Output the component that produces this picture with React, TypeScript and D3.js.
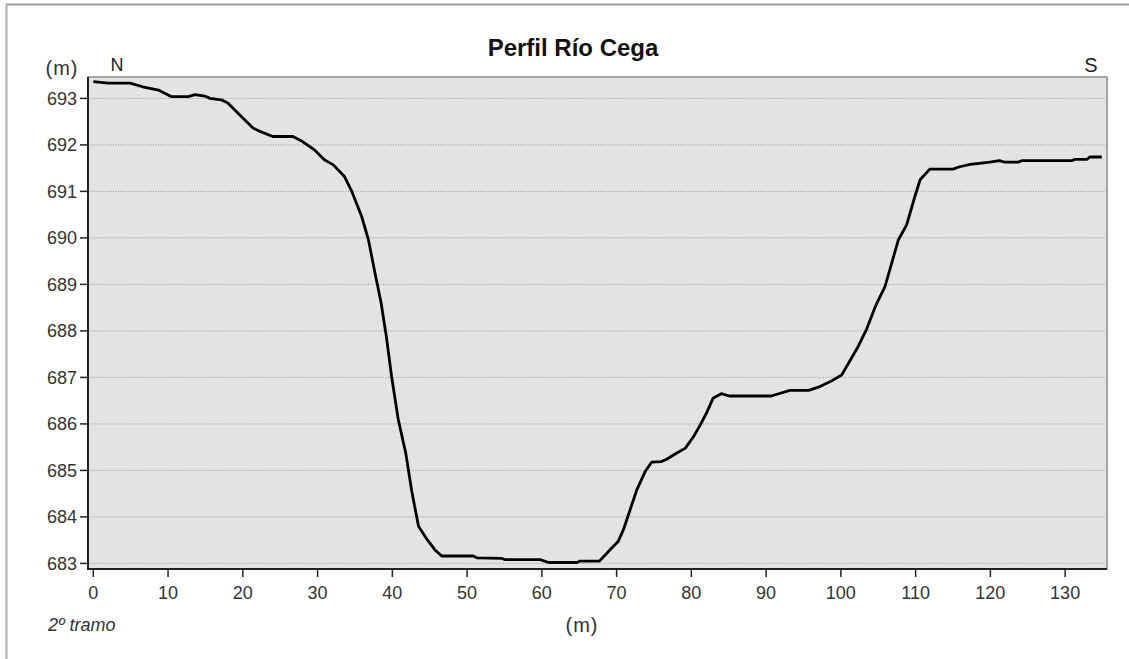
import React from "react";
import * as d3 from "d3";

const distance: number[] = [0, 2, 4.9, 6.6, 8.7, 10.4, 12.7, 13.6, 14.9, 15.6, 17.1, 18, 19.8, 21.4, 22.3, 24, 26.7, 27.8, 29.6, 30.9, 32.1, 33.6, 34.5, 35.9, 36.8, 37.6, 38.5, 39.2, 39.9, 40.8, 41.8, 42.6, 43.5, 44.5, 45.7, 46.6, 50.8, 51.3, 54.6, 55.1, 59.8, 60.9, 64.7, 65.1, 67.7, 69.1, 70.2, 70.9, 71.8, 72.7, 73.8, 74.7, 76.0, 76.7, 78.0, 79.2, 80.3, 81.2, 82.1, 82.9, 84.0, 85.1, 90.7, 91.9, 93.2, 95.7, 97.0, 98.6, 100.1, 101.0, 102.3, 103.4, 104.6, 105.9, 106.8, 107.7, 108.8, 109.9, 110.6, 111.9, 115.0, 115.9, 117.3, 118.8, 119.9, 121.2, 121.9, 123.7, 124.2, 130.9, 131.3, 132.9, 133.3, 134.9];

const elevation: number[] = [693.36, 693.33, 693.33, 693.25, 693.18, 693.04, 693.04, 693.08, 693.05, 693.0, 692.97, 692.9, 692.61, 692.36, 692.29, 692.18, 692.18, 692.09, 691.89, 691.68, 691.57, 691.32, 691.03, 690.46, 689.96, 689.31, 688.6, 687.88, 687.02, 686.09, 685.37, 684.55, 683.8, 683.55, 683.29, 683.16, 683.16, 683.12, 683.11, 683.08, 683.08, 683.02, 683.02, 683.05, 683.05, 683.29, 683.47, 683.72, 684.15, 684.58, 684.97, 685.18, 685.19, 685.24, 685.37, 685.48, 685.73, 685.98, 686.26, 686.55, 686.65, 686.6, 686.6, 686.66, 686.72, 686.72, 686.79, 686.91, 687.05, 687.3, 687.66, 688.02, 688.52, 688.95, 689.46, 689.96, 690.28, 690.89, 691.25, 691.48, 691.48, 691.53, 691.58, 691.61, 691.63, 691.66, 691.63, 691.63, 691.66, 691.66, 691.69, 691.69, 691.74, 691.74];

const xTicks: number[] = [0, 10, 20, 30, 40, 50, 60, 70, 80, 90, 100, 110, 120, 130];
const yTicks: number[] = [683, 684, 685, 686, 687, 688, 689, 690, 691, 692, 693];

const title = "Perfil Río Cega";
const yUnit = "(m)";
const xUnit = "(m)";
const leftLabel = "N";
const rightLabel = "S";
const note = "2º tramo";

export default function App() {
  const W = 1129;
  const H = 659;
  const left = 88, right = 1107, top = 77, bottom = 569;
  const x = d3.scaleLinear().domain([-0.71, 135.6]).range([left, right]);
  const y = d3.scaleLinear().domain([682.88, 693.46]).range([bottom, top]);
  const pts: [number, number][] = distance.map((d, i) => [d, elevation[i]]);
  const line = d3.line<[number, number]>().x(d => x(d[0])).y(d => y(d[1])).curve(d3.curveLinear);
  const font = "'Liberation Sans', Arial, sans-serif";
  const tickColor = "#333";

  return (
    <svg width={W} height={H} style={{ position: "absolute", left: 0, top: 0, background: "#fff" }} fontFamily={font}>
      <line x1={6} x2={W} y1={4.5} y2={4.5} stroke="#9a9a9a" strokeWidth={2} />
      <line x1={6.5} x2={6.5} y1={4} y2={H} stroke="#b0b0b0" strokeWidth={2} />

      <rect x={left} y={top} width={right - left} height={bottom - top} fill="#e3e3e3" stroke="#8a8a8a" strokeWidth={1.5} />

      {yTicks.map(t => (
        <line key={"g" + t} x1={left} x2={right} y1={y(t)} y2={y(t)} stroke="#9a9a9a" strokeWidth={1} strokeDasharray="1,1.5" />
      ))}

      <path d={line(pts) || ""} fill="none" stroke="#000" strokeWidth={2.8} strokeLinejoin="round" />

      <line x1={left} x2={left} y1={top} y2={bottom + 1} stroke="#222" strokeWidth={2} />
      <line x1={left - 1} x2={right} y1={bottom} y2={bottom} stroke="#222" strokeWidth={2} />

      {yTicks.map(t => (
        <g key={"y" + t}>
          <line x1={left - 8} x2={left} y1={y(t)} y2={y(t)} stroke="#222" strokeWidth={1.5} />
          <text x={left - 11} y={y(t)} dy="0.35em" textAnchor="end" fontSize={18} fill={tickColor}>{t}</text>
        </g>
      ))}
      {xTicks.map(t => (
        <g key={"x" + t}>
          <line x1={x(t)} x2={x(t)} y1={bottom} y2={bottom + 8} stroke="#222" strokeWidth={1.5} />
          <text x={x(t)} y={599} textAnchor="middle" fontSize={18} fill={tickColor}>{t}</text>
        </g>
      ))}

      <text x={573} y={56} textAnchor="middle" fontSize={24} fontWeight="bold" fill="#111">{title}</text>
      <text x={62} y={75} textAnchor="middle" fontSize={20} fill={tickColor} letterSpacing={1}>{yUnit}</text>
      <text x={117} y={71} textAnchor="middle" fontSize={18} fill="#222">{leftLabel}</text>
      <text x={1091} y={72} textAnchor="middle" fontSize={20} fill="#222">{rightLabel}</text>
      <text x={582} y={632} textAnchor="middle" fontSize={20} fill={tickColor} letterSpacing={1}>{xUnit}</text>
      <text x={48} y={631} fontSize={18} fontStyle="italic" fill={tickColor}>{note}</text>
    </svg>
  );
}
